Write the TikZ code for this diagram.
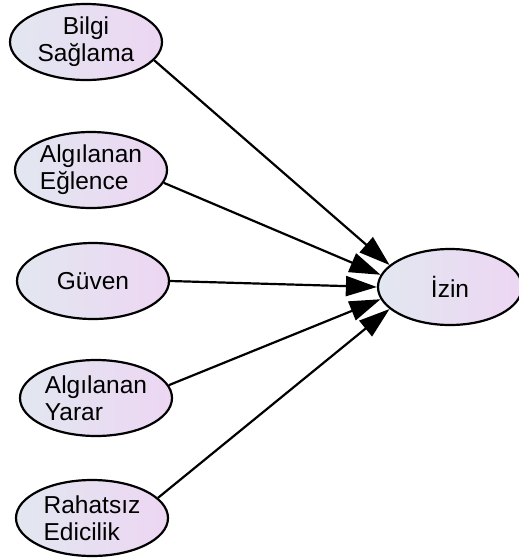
\documentclass[tikz,border=0pt]{standalone}
\usepackage{fontspec}
\setmainfont{Liberation Sans}
\usetikzlibrary{arrows.meta,shapes.geometric}
\definecolor{bluegrey}{RGB}{226,231,240}
\definecolor{lilac}{RGB}{237,214,243}
\begin{document}
\begin{tikzpicture}[x=1pt, y=-1pt,
    construct/.style={ellipse, draw=black, line width=2.2pt, inner sep=0pt,
        left color=bluegrey, right color=lilac, shading angle=90,
        minimum width=152pt, minimum height=76pt,
        font=\fontsize{24.5}{27}\selectfont, align=left},
    path/.style={line width=2.2pt,
        -{Triangle[length=31pt,width=20pt]}}]
    \useasboundingbox (0,0) rectangle (519,558);

    % Predictors
    \node[construct, align=center] (bilgi) at (86,42) {Bilgi\\Sağlama};
    \node[construct] (eglence) at (91,170) {Algılanan\\Eğlence};
    \node[construct] (guven) at (93,281) {Güven};
    \node[construct] (yarar) at (96,398) {Algılanan\\Yarar};
    \node[construct] (rahatsiz) at (92,518) {Rahatsız\\Edicilik};

    % Outcome
    \node[construct, minimum width=144pt] (izin) at (450,287) {İzin};

    % Paths
    \draw[path] (bilgi.-15) -- (izin.160);
    \draw[path] (eglence.-10) -- (izin.170);
    \draw[path] (guven.east) -- (izin.west);
    \draw[path] (yarar.10) -- (izin.190);
    \draw[path] (rahatsiz.17) -- (izin.200);
\end{tikzpicture}
\end{document}
